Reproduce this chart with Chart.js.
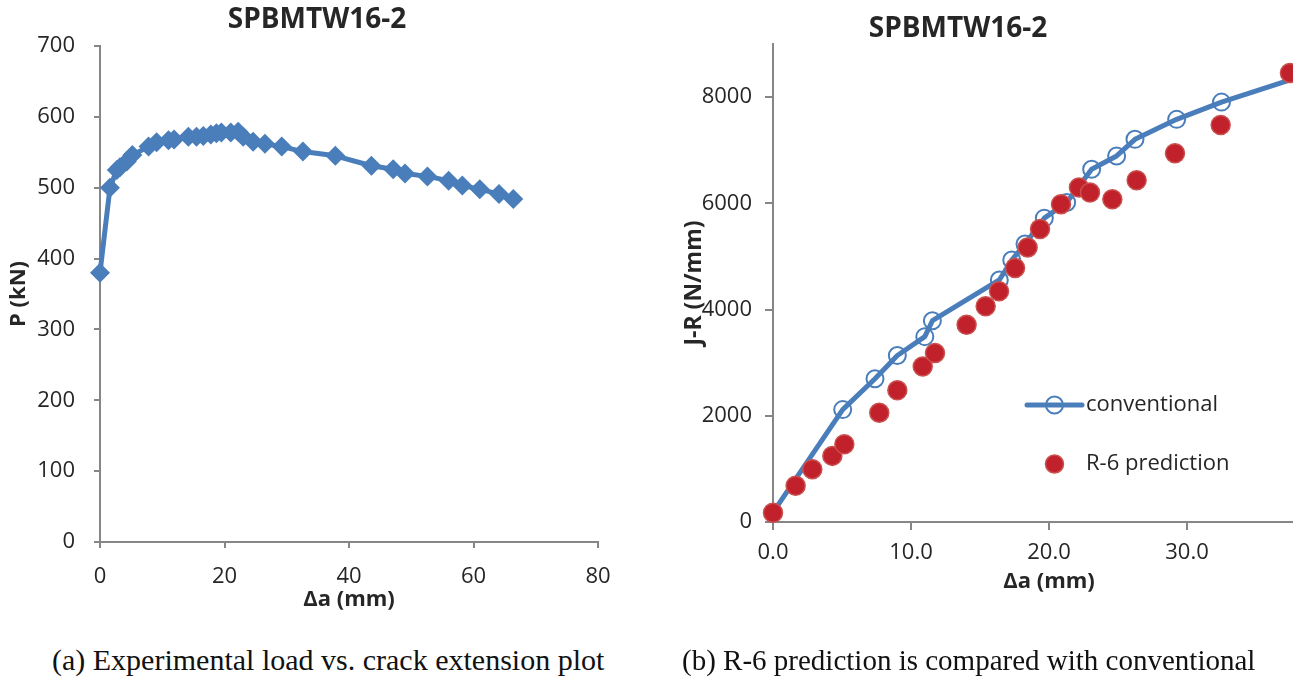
<!DOCTYPE html>
<html>
<head>
<meta charset="utf-8">
<script src="https://cdn.jsdelivr.net/npm/chart.js@4.4.0/dist/chart.umd.min.js"></script>
<style>
  html, body { margin: 0; padding: 0; background: #fff; overflow: hidden; }
  #wrap { position: relative; width: 1293px; height: 681px; overflow: hidden; background: #fff; }
  canvas { position: absolute; top: 0; }
  #loadChart { left: 0; }
  #jrChart { left: 591px; }
  .caption { position: absolute; top: 643px; line-height: 34px; font-family: 'Liberation Serif', 'Times New Roman', serif; color: #111; white-space: nowrap; }
</style>
</head>
<body>
<div id="wrap">
  <canvas id="loadChart" width="634" height="640"></canvas>
  <canvas id="jrChart" width="774" height="640"></canvas>
  <div class="caption" style="left:52px; font-size:30px">(a) Experimental load vs. crack extension plot</div>
  <div class="caption" style="left:682px; font-size:29px">(b) R-6 prediction is compared with conventional</div>
</div>
<script>
// ================= DATA =================
// (a) load vs crack extension
const loadDa = [0, 1.6, 2.7, 3.2, 4.3, 5.2, 7.8, 9.1, 11.0, 11.9, 14.2, 15.5, 16.6, 17.8, 18.7, 19.5, 21.0, 22.2, 23.0, 24.6, 26.5, 29.2, 32.6, 37.8, 43.6, 47.1, 49.0, 52.6, 56.0, 58.2, 61.0, 64.1, 66.4];
const loadP = [380, 500, 525, 529, 537, 546, 558, 564, 567, 568, 572, 572, 573, 575, 577, 578, 578, 579, 572, 565, 562, 558, 551, 545, 531, 526, 520, 516, 510, 503, 498, 491, 484];
const loadTicksX = [0, 20, 40, 60, 80];
const loadTicksY = [0, 100, 200, 300, 400, 500, 600, 700];

// (b) J-R curves
const convDa = [0, 5.05, 7.39, 9.01, 11.0, 11.55, 16.4, 17.3, 18.26, 19.66, 21.28, 23.09, 24.9, 26.23, 29.25, 32.5, 38.6];
const convJ = [180, 2116, 2698, 3136, 3490, 3790, 4557, 4933, 5233, 5721, 6015, 6642, 6892, 7205, 7581, 7906, 8420];
const r6Da = [0, 1.64, 2.85, 4.3, 5.17, 7.7, 9.01, 10.85, 11.74, 14.03, 15.41, 16.38, 17.54, 18.45, 19.35, 20.87, 22.17, 22.97, 24.59, 26.35, 29.13, 32.44, 37.46];
const r6J = [175, 682, 995, 1245, 1465, 2059, 2479, 2930, 3180, 3712, 4063, 4344, 4783, 5170, 5515, 5984, 6297, 6203, 6078, 6435, 6942, 7474, 8456];
const jrTicksX = [0, 10, 20, 30, 40];
const jrTicksY = [0, 2000, 4000, 6000, 8000];

// ================= STYLE =================
const BLUE = '#4a7ebb';
const RED = '#c0212b';
const RED_EDGE = '#c9504f';
const AXIS = '#868686';
const TEXT = '#262626';

Chart.defaults.font.family = "'Open Sans', sans-serif";
Chart.defaults.color = TEXT;

function toXY(xs, ys) {
    return xs.map((x, i) => ({ x: x, y: ys[i] }));
}

// force tick positions to the listed values
function fixTicks(list) {
    return function(scale) {
        scale.ticks = list.map(v => ({ value: v }));
    };
}

function axisStyle(tickLen) {
    return {
        grid: { display: true, drawOnChartArea: false, drawTicks: true, tickLength: tickLen, color: AXIS, lineWidth: 2 },
        border: { display: true, color: AXIS, width: 2 }
    };
}

// legend drawn inside the plot, like the Excel one
const jrLegend = {
    id: 'jrLegend',
    afterDraw(chart) {
        const { ctx, chartArea } = chart;
        const conv = chart.data.datasets[1];
        const r6 = chart.data.datasets[0];
        const x0 = chartArea.left + 254, x1 = chartArea.left + 309;
        const xm = (x0 + x1) / 2;
        const y1 = chartArea.top + 361, y2 = chartArea.top + 420;
        ctx.save();
        ctx.strokeStyle = BLUE;
        ctx.lineWidth = 5;
        ctx.lineCap = 'round';
        ctx.beginPath();
        ctx.moveTo(x0, y1);
        ctx.lineTo(x1, y1);
        ctx.stroke();
        ctx.lineWidth = 2;
        ctx.beginPath();
        ctx.arc(xm, y1, 8.5, 0, Math.PI * 2);
        ctx.stroke();
        ctx.fillStyle = RED;
        ctx.strokeStyle = RED_EDGE;
        ctx.lineWidth = 1.5;
        ctx.beginPath();
        ctx.arc(xm, y2, 9, 0, Math.PI * 2);
        ctx.fill();
        ctx.stroke();
        ctx.fillStyle = TEXT;
        ctx.font = "22px 'Open Sans', sans-serif";
        ctx.textBaseline = 'middle';
        ctx.textAlign = 'left';
        ctx.fillText(conv.label, x1 + 4, y1);
        ctx.fillText(r6.label, x1 + 4, y2);
        ctx.restore();
    }
};

// ================= CHART (a) =================
new Chart(document.getElementById('loadChart'), {
    type: 'scatter',
    data: {
        datasets: [{
            label: 'SPBMTW16-2',
            data: toXY(loadDa, loadP),
            showLine: true,
            borderColor: BLUE,
            backgroundColor: BLUE,
            borderWidth: 5,
            borderJoinStyle: 'round',
            pointStyle: 'rectRot',
            pointRadius: 10,
            pointBorderWidth: 0,
            clip: false
        }]
    },
    options: {
        responsive: false,
        animation: false,
        devicePixelRatio: 1,
        layout: { padding: { top: 0, right: 36, bottom: 0, left: 36 } },
        plugins: {
            legend: { display: false },
            tooltip: { enabled: false },
            title: {
                display: true,
                text: 'SPBMTW16-2',
                color: TEXT,
                font: { size: 28, weight: 'bold' },
                padding: { top: 3.2, bottom: 9.2 }
            }
        },
        scales: {
            x: {
                type: 'linear', min: 0, max: 80,
                afterBuildTicks: fixTicks(loadTicksX),
                afterFit: s => { s.height = 98; },
                ...axisStyle(6),
                ticks: { font: { size: 22 }, padding: 16, color: TEXT, maxRotation: 0 },
                title: { display: true, text: 'Δa (mm)', color: TEXT, font: { size: 22, weight: 'bold' }, padding: { top: 0, bottom: 27 } }
            },
            y: {
                type: 'linear', min: 0, max: 700,
                afterBuildTicks: fixTicks(loadTicksY),
                afterFit: s => { s.width = 64; },
                ...axisStyle(6),
                ticks: { font: { size: 22 }, padding: 19, color: TEXT },
                title: { display: true, text: 'P (kN)', color: TEXT, font: { size: 22, weight: 'bold' }, padding: { top: -30, bottom: 0 } }
            }
        }
    }
});

// ================= CHART (b) =================
new Chart(document.getElementById('jrChart'), {
    type: 'scatter',
    data: {
        datasets: [{
            label: 'R-6 prediction',
            data: toXY(r6Da, r6J),
            showLine: false,
            backgroundColor: RED,
            borderColor: RED_EDGE,
            pointRadius: 9.5,
            pointBorderWidth: 1.5,
            clip: false,
            order: 0
        }, {
            label: 'conventional',
            data: toXY(convDa, convJ),
            showLine: true,
            borderColor: BLUE,
            borderWidth: 5,
            borderJoinStyle: 'round',
            pointRadius: 8.5,
            pointBorderWidth: 2,
            pointBorderColor: BLUE,
            pointBackgroundColor: 'rgba(0,0,0,0)',
            clip: false,
            order: 1
        }]
    },
    options: {
        responsive: false,
        animation: false,
        devicePixelRatio: 1,
        layout: { padding: { top: 0, right: 40, bottom: 0, left: 0 } },
        plugins: {
            legend: { display: false },
            tooltip: { enabled: false },
            title: {
                display: true,
                text: 'SPBMTW16-2',
                color: TEXT,
                font: { size: 28, weight: 'bold' },
                padding: { top: 12.2, bottom: -1.8 }
            }
        },
        scales: {
            x: {
                type: 'linear', min: 0, max: 40,
                afterBuildTicks: fixTicks(jrTicksX),
                afterFit: s => { s.height = 118; },
                ...axisStyle(8),
                ticks: { font: { size: 22 }, padding: 10, color: TEXT, maxRotation: 0, callback: v => v.toFixed(1) },
                title: { display: true, text: 'Δa (mm)', color: TEXT, font: { size: 22, weight: 'bold' }, padding: { top: 0, bottom: 45 } }
            },
            y: {
                type: 'linear', min: 0, max: 9000,
                afterBuildTicks: fixTicks(jrTicksY),
                afterFit: s => { s.width = 182; },
                ...axisStyle(8),
                ticks: { font: { size: 22 }, padding: 13, color: TEXT, callback: v => String(v) },
                title: { display: true, text: 'J-R (N/mm)', color: TEXT, font: { size: 23, weight: 'bold' }, padding: { top: 90, bottom: 0 } }
            }
        }
    },
    plugins: [jrLegend]
});
</script>
</body>
</html>
